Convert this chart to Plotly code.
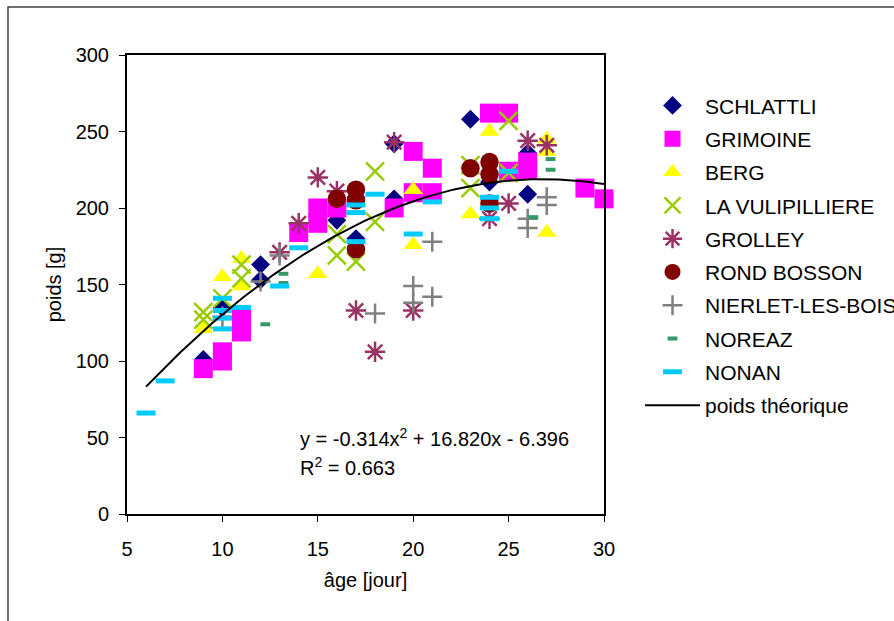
import numpy as np
import plotly.graph_objects as go

# --- poids des poussins selon l'âge, par élevage ---
schlattli_age = [9, 10, 12, 12, 16, 17, 17, 19, 19, 23, 24, 26, 26]
schlattli_poids = [101, 135, 163, 153, 192, 207, 180, 242, 206, 258, 217, 236, 209]

grimoine_age = [9, 10, 10, 11, 11, 14, 15, 15, 16, 19, 20, 20, 21, 21, 24, 25, 25, 26, 26, 29, 30]
grimoine_poids = [95, 106, 100, 128, 119, 184, 200, 190, 200, 200, 237, 210, 226, 210, 262, 262, 224, 230, 225, 213, 206]

berg_age = [9, 10, 11, 11, 15, 20, 20, 23, 24, 27, 27, 27]
berg_poids = [121, 155, 167, 149, 157, 212, 176, 196, 250, 245, 237, 184]

vulipilliere_age = [9, 9, 10, 11, 11, 16, 16, 17, 18, 18, 23, 23, 25, 25]
vulipilliere_poids = [132, 127, 141, 163, 154, 183, 169, 165, 224, 191, 228, 213, 257, 223]

grolley_age = [13, 14, 15, 16, 17, 18, 19, 20, 24, 25, 26, 27]
grolley_poids = [171, 190, 220, 211, 133, 106, 243, 133, 193, 203, 244, 241]

rond_bosson_age = [16, 17, 17, 17, 23, 24, 24, 24]
rond_bosson_poids = [206, 212, 205, 173, 226, 230, 222, 203]

nierlet_age = [10, 12, 13, 18, 20, 20, 21, 21, 26, 26, 27, 27]
nierlet_poids = [129, 152, 169, 131, 149, 138, 178, 142, 193, 187, 207, 202]

noreaz_age = [12.25, 13.2, 13.2, 26.3, 27.2, 27.2]
noreaz_poids = [124, 157, 151, 194, 232, 225]

nonan_age = [6, 7, 10, 10, 10, 10, 11, 13, 14, 17, 17, 17, 18, 20, 21, 24, 24, 24, 25]
nonan_poids = [66, 87, 141, 133, 128, 121, 135, 149, 174, 202, 197, 178, 209, 183, 204, 207, 200, 193, 224]

# courbe de poids théorique (ajustement polynomial d'ordre 2)
coef_a, coef_b, coef_c = -0.314, 16.820, -6.396
r_carre = 0.663
age_min, age_max = 6, 30

x_ticks = [5, 10, 15, 20, 25, 30]
y_ticks = [0, 50, 100, 150, 200, 250, 300]

FONT = "Liberation Sans, Arial, sans-serif"

fig = go.Figure()


def nuage(name, ages, poids, symbol, color, size, line_width=0, line_color=None):
    marker = dict(symbol=symbol, size=size, color=color)
    marker["line"] = dict(width=line_width, color=line_color or color)
    fig.add_trace(go.Scatter(
        x=ages, y=poids, mode="markers", name=name,
        legendgroup=name, marker=marker, cliponaxis=False,
    ))


nuage("SCHLATTLI", schlattli_age, schlattli_poids, "diamond", "#000080", 14.5)
nuage("GRIMOINE", grimoine_age, grimoine_poids, "square", "#FF00FF", 19)
nuage("BERG", berg_age, berg_poids, "triangle-up", "#FFFF00", 17)
nuage("LA VULIPILLIERE", vulipilliere_age, vulipilliere_poids, "x-thin", "#99CC00", 18, 2.5)
nuage("GROLLEY", grolley_age, grolley_poids, "asterisk", "#993366", 17, 2.5)
nuage("ROND BOSSON", rond_bosson_age, rond_bosson_poids, "circle", "#800000", 18.5)
nuage("NIERLET-LES-BOIS", nierlet_age, nierlet_poids, "cross-thin", "#808080", 14.3, 2.5)
nuage("NOREAZ", noreaz_age, noreaz_poids, "line-ew", "#339966", 7, 4)
nuage("NONAN", nonan_age, nonan_poids, "line-ew", "#00CCFF", 13.6, 5)

age_courbe = np.linspace(age_min, age_max, 121)
poids_courbe = coef_a * age_courbe ** 2 + coef_b * age_courbe + coef_c
fig.add_trace(go.Scatter(
    x=age_courbe, y=poids_courbe, mode="lines", name="poids théorique",
    legendgroup="poids théorique", line=dict(color="black", width=2),
))

fig.add_annotation(
    x=13.95, y=50.3, xref="x", yref="y", xanchor="left", yanchor="middle",
    text=f"y = {coef_a:.3f}x<sup>2</sup> + {coef_b:.3f}x - {abs(coef_c):.3f}",
    showarrow=False, font=dict(family=FONT, size=20, color="black"),
)
fig.add_annotation(
    x=13.95, y=31.3, xref="x", yref="y", xanchor="left", yanchor="middle",
    text=f"R<sup>2</sup> = {r_carre:.3f}",
    showarrow=False, font=dict(family=FONT, size=20, color="black"),
)

# cadre extérieur du graphique
fig.add_shape(
    type="rect", xref="paper", yref="paper",
    x0=-0.2495, y0=-0.245, x1=1.62, y1=1.1046,
    line=dict(color="#404040", width=1.5), fillcolor="rgba(0,0,0,0)", layer="below",
)

axis_common = dict(
    showline=True, linecolor="black", linewidth=2, mirror=True,
    ticks="outside", ticklen=6, tickwidth=1, tickcolor="black",
    showgrid=False, zeroline=False,
    tickfont=dict(family=FONT, size=20, color="black"),
)

fig.update_layout(
    width=894, height=621,
    margin=dict(l=127, r=290, t=55, b=107, autoexpand=False),
    paper_bgcolor="white", plot_bgcolor="white",
    font=dict(family=FONT, size=20, color="black"),
    showlegend=True,
    legend=dict(
        x=1.0755, y=0.934, xanchor="left", yanchor="top",
        traceorder="grouped", tracegroupgap=3,
        itemwidth=55, itemsizing="trace",
        font=dict(family=FONT, size=21, color="black"),
        bgcolor="rgba(0,0,0,0)", borderwidth=0,
    ),
    xaxis=dict(
        range=[5, 30], tickvals=x_ticks, ticklabelstandoff=10,
        title=dict(text="âge [jour]", standoff=14,
                   font=dict(family=FONT, size=20, color="black")),
        **axis_common,
    ),
    yaxis=dict(
        range=[0, 300], tickvals=y_ticks, ticklabelstandoff=6,
        title=dict(text="poids [g]", standoff=9,
                   font=dict(family=FONT, size=20, color="black")),
        **axis_common,
    ),
)

fig.write_html("out.html")
